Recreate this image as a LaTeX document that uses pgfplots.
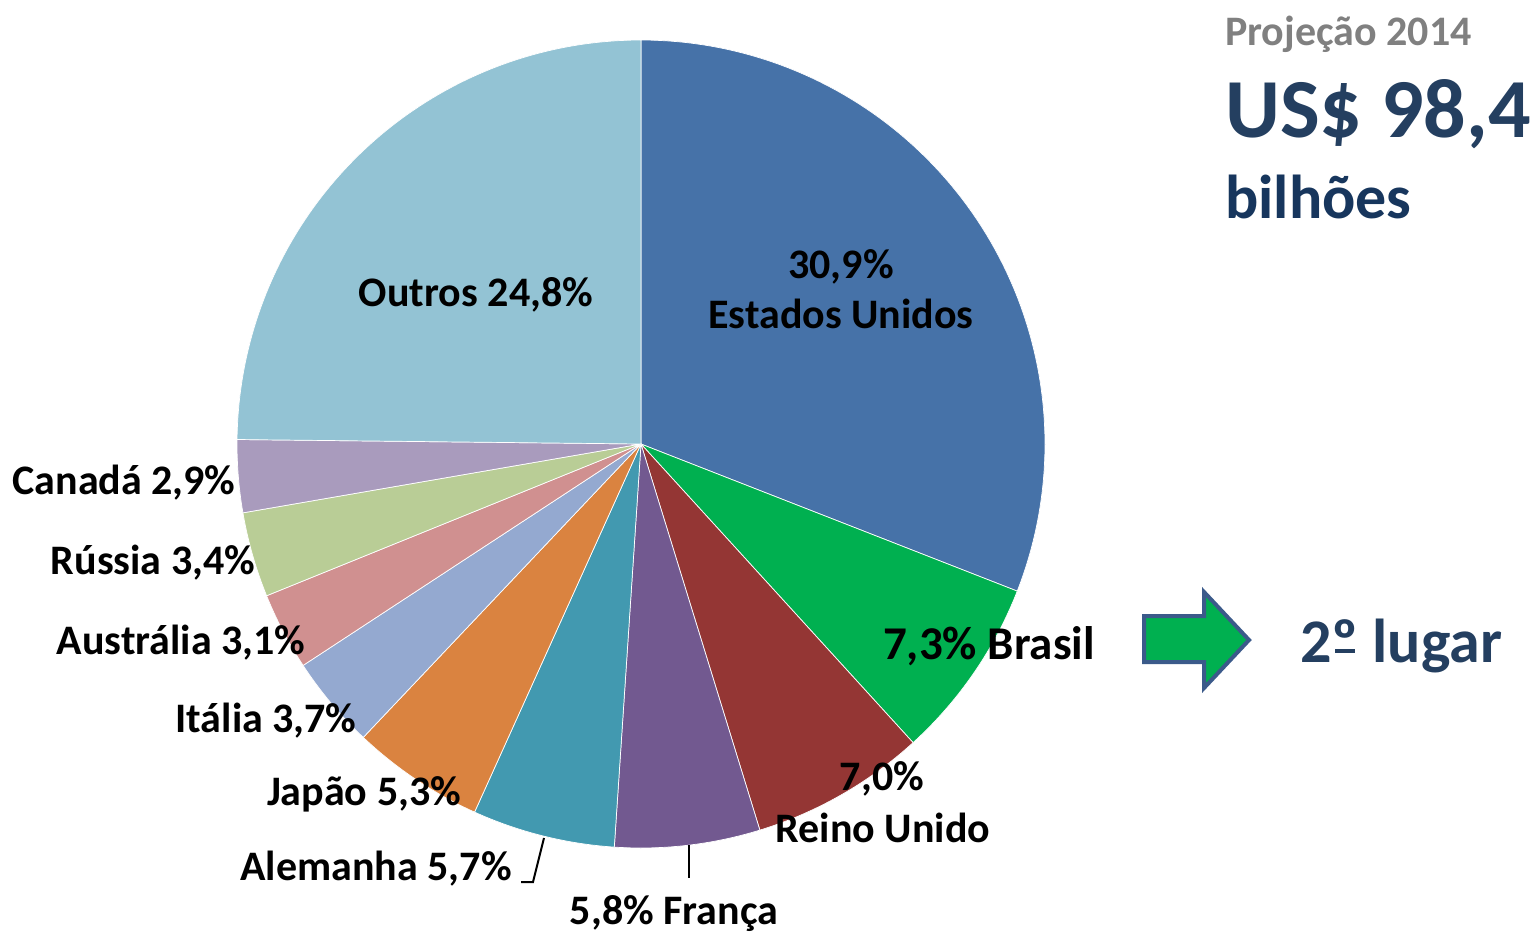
\documentclass[border=0pt]{standalone}
\usepackage{pgfplots}
\pgfplotsset{compat=1.18}
\usepackage{fontspec}
\setmainfont{Carlito}
\definecolor{cUS}{HTML}{4672A8}
\definecolor{cBR}{HTML}{00B050}
\definecolor{cUK}{HTML}{943634}
\definecolor{cFR}{HTML}{725990}
\definecolor{cDE}{HTML}{4299B0}
\definecolor{cJP}{HTML}{DA8340}
\definecolor{cIT}{HTML}{94A9D0}
\definecolor{cAU}{HTML}{D09090}
\definecolor{cRU}{HTML}{B9CD96}
\definecolor{cCA}{HTML}{A99BBD}
\definecolor{cOT}{HTML}{93C3D4}
\definecolor{navy}{HTML}{243F60}
\definecolor{navyb}{HTML}{17365D}
\definecolor{greyt}{HTML}{808080}
\definecolor{arrowb}{HTML}{3B5A8A}
% #1 = cumulative share before the slice, #2 = share, #3 = colour
\newcommand\slice[3]{%
  \addplot[fill=#3, draw=white, line width=0.7pt, line join=round,
    domain=90-360/99.9*(#1+#2):90-360/99.9*(#1), samples=90, variable=\t]
    ({641+404*cos(\t)},{444-404*sin(\t)}) -- (axis cs:641,444) -- cycle;}
\newcommand\lab{\fontsize{42}{50}\selectfont\bfseries}
\begin{document}
\begin{tikzpicture}
\begin{axis}[x=1pt,y=1pt,xmin=0,xmax=1537,ymin=0,ymax=931,
  y dir=reverse,hide axis,clip=false]
\path (axis cs:0,0) rectangle (axis cs:1537,931);
\slice{0}{30.9}{cUS}
\slice{30.9}{7.3}{cBR}
\slice{38.2}{7.0}{cUK}
\slice{45.2}{5.8}{cFR}
\slice{51.0}{5.7}{cDE}
\slice{56.7}{5.3}{cJP}
\slice{62.0}{3.7}{cIT}
\slice{65.7}{3.1}{cAU}
\slice{68.8}{3.4}{cRU}
\slice{72.2}{2.9}{cCA}
\slice{75.1}{24.8}{cOT}
% labels
\node[anchor=base,font=\lab] at (axis cs:841,278) {30,9\%};
\node[anchor=base,font=\lab] at (axis cs:841,328) {Estados Unidos};
\node[anchor=base,font=\lab] at (axis cs:476,306) {Outros 24,8\%};
\node[anchor=base,font=\fontsize{47}{54}\selectfont\bfseries] at (axis cs:989,659) {7,3\% Brasil};
\node[anchor=base,font=\lab] at (axis cs:882,790) {7,0\%};
\node[anchor=base,font=\lab] at (axis cs:883,842) {Reino Unido};
\node[anchor=base,font=\lab] at (axis cs:674,924) {5,8\% França};
\node[anchor=base,font=\lab] at (axis cs:376,880) {Alemanha 5,7\%};
\node[anchor=base,font=\lab] at (axis cs:364,805) {Japão 5,3\%};
\node[anchor=base,font=\lab] at (axis cs:266,732) {Itália 3,7\%};
\node[anchor=base,font=\lab] at (axis cs:181,654) {Austrália 3,1\%};
\node[anchor=base,font=\lab] at (axis cs:153,574) {Rússia 3,4\%};
\node[anchor=base,font=\lab] at (axis cs:124,494) {Canadá 2,9\%};
% leader lines
\draw[line width=2pt] (axis cs:544,838) -- (axis cs:533,882) -- (axis cs:521,882);
\draw[line width=2pt] (axis cs:689,845) -- (axis cs:689,878);
% right side texts
\node[anchor=base west,inner sep=0,font=\fontsize{42}{50}\selectfont\bfseries,text=greyt] at (axis cs:1225,45) {Projeção 2014};
\node[anchor=base west,inner sep=0,font=\fontsize{84}{90}\selectfont\bfseries,text=navy] at (axis cs:1225,137) {US\$ 98,4};
\node[anchor=base west,inner sep=0,font=\fontsize{62}{70}\selectfont\bfseries,text=navyb] at (axis cs:1225,218) {bilhões};
\node[anchor=base west,inner sep=0,font=\fontsize{62}{70}\selectfont\bfseries,text=navy] at (axis cs:1300,662)
  {2{\ooalign{º\cr\hidewidth\rule[0.14em]{0.32em}{0.065em}\hidewidth}} lugar};
% arrow
\filldraw[fill=cBR,draw=arrowb,line width=4pt,line join=miter]
  (axis cs:1144,616) -- (axis cs:1204,616) -- (axis cs:1204,592) -- (axis cs:1249,640)
  -- (axis cs:1204,688) -- (axis cs:1204,662) -- (axis cs:1144,662) -- cycle;
\end{axis}
\end{tikzpicture}
\end{document}
